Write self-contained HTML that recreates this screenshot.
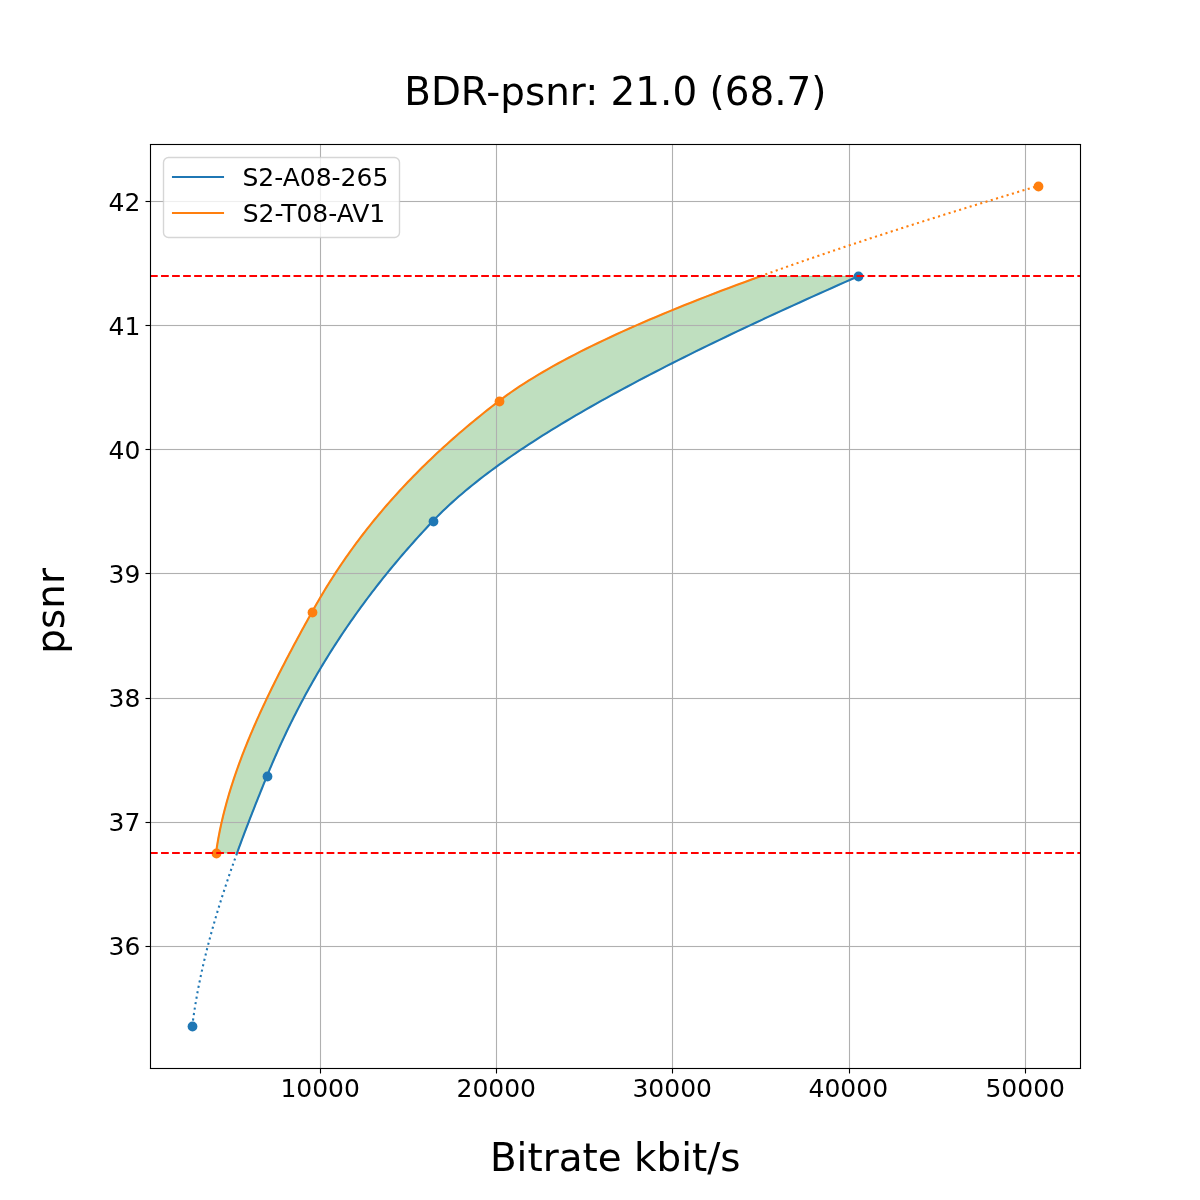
<!DOCTYPE html>
<html lang="en">
<head>
<meta charset="utf-8">
<title>BDR-psnr: 21.0 (68.7)</title>
<style>
html,body{margin:0;padding:0;background:#ffffff;}
body{width:1200px;height:1200px;overflow:hidden;}
svg{display:block;}
</style>
</head>
<body>
<svg width="1200" height="1200" viewBox="0 0 1200 1200">
<rect x="0" y="0" width="1200" height="1200" fill="#ffffff"/>
<defs><clipPath id="ax"><rect x="150" y="144" width="930" height="924"/></clipPath></defs>
<g clip-path="url(#ax)">
<path d="M237.06 853 L238.11 850.1 L239.17 847.2 L240.24 844.31 L241.31 841.41 L242.39 838.51 L243.48 835.61 L244.57 832.72 L245.67 829.82 L246.78 826.92 L247.89 824.02 L249.01 821.12 L250.13 818.23 L251.26 815.33 L252.39 812.43 L253.52 809.53 L254.67 806.64 L255.81 803.74 L256.97 800.84 L258.12 797.94 L259.28 795.05 L260.45 792.15 L261.61 789.25 L262.78 786.35 L263.96 783.45 L265.14 780.56 L266.32 777.66 L267.51 774.76 L268.71 771.86 L269.91 768.97 L271.14 766.07 L272.37 763.17 L273.62 760.27 L274.88 757.37 L276.15 754.48 L277.44 751.58 L278.74 748.68 L280.05 745.78 L281.38 742.89 L282.72 739.99 L284.07 737.09 L285.44 734.19 L286.82 731.29 L288.21 728.4 L289.62 725.5 L291.05 722.6 L292.49 719.7 L293.94 716.81 L295.41 713.91 L296.89 711.01 L298.39 708.11 L299.9 705.22 L301.43 702.32 L302.98 699.42 L304.53 696.52 L306.11 693.62 L307.7 690.73 L309.31 687.83 L310.93 684.93 L312.57 682.03 L314.23 679.14 L315.9 676.24 L317.59 673.34 L319.29 670.44 L321.01 667.54 L322.75 664.65 L324.51 661.75 L326.28 658.85 L328.07 655.95 L329.88 653.06 L331.71 650.16 L333.55 647.26 L335.41 644.36 L337.29 641.47 L339.19 638.57 L341.11 635.67 L343.04 632.77 L344.99 629.87 L346.96 626.98 L348.95 624.08 L350.96 621.18 L352.99 618.28 L355.04 615.39 L357.1 612.49 L359.19 609.59 L361.3 606.69 L363.42 603.79 L365.57 600.9 L367.73 598 L369.92 595.1 L372.12 592.2 L374.35 589.31 L376.59 586.41 L378.86 583.51 L381.14 580.61 L383.45 577.71 L385.78 574.82 L388.13 571.92 L390.5 569.02 L392.89 566.12 L395.31 563.23 L397.74 560.33 L400.2 557.43 L402.68 554.53 L405.18 551.64 L407.7 548.74 L410.25 545.84 L412.82 542.94 L415.41 540.04 L418.02 537.15 L420.66 534.25 L423.31 531.35 L426 528.45 L428.7 525.56 L431.43 522.66 L434.18 519.76 L437 516.86 L439.89 513.96 L442.85 511.07 L445.88 508.17 L448.98 505.27 L452.15 502.37 L455.38 499.48 L458.68 496.58 L462.05 493.68 L465.48 490.78 L468.98 487.88 L472.54 484.99 L476.17 482.09 L479.86 479.19 L483.61 476.29 L487.42 473.4 L491.3 470.5 L495.23 467.6 L499.23 464.7 L503.28 461.81 L507.4 458.91 L511.57 456.01 L515.8 453.11 L520.09 450.21 L524.43 447.32 L528.83 444.42 L533.28 441.52 L537.79 438.62 L542.35 435.73 L546.97 432.83 L551.64 429.93 L556.36 427.03 L561.13 424.13 L565.95 421.24 L570.82 418.34 L575.75 415.44 L580.72 412.54 L585.74 409.65 L590.8 406.75 L595.92 403.85 L601.08 400.95 L606.28 398.06 L611.53 395.16 L616.83 392.26 L622.17 389.36 L627.55 386.46 L632.98 383.57 L638.44 380.67 L643.95 377.77 L649.5 374.87 L655.09 371.98 L660.72 369.08 L666.39 366.18 L672.09 363.28 L677.84 360.38 L683.62 357.49 L689.44 354.59 L695.29 351.69 L701.18 348.79 L707.1 345.9 L713.06 343 L719.05 340.1 L725.07 337.2 L731.13 334.3 L737.21 331.41 L743.33 328.51 L749.48 325.61 L755.65 322.71 L761.86 319.82 L768.09 316.92 L774.36 314.02 L780.65 311.12 L786.96 308.23 L793.3 305.33 L799.67 302.43 L806.06 299.53 L812.48 296.63 L818.91 293.74 L825.38 290.84 L831.86 287.94 L838.36 285.04 L844.89 282.15 L851.43 279.25 L858 276.35 L760.14 276.35 L752.19 279.25 L744.32 282.15 L736.52 285.04 L728.8 287.94 L721.15 290.84 L713.58 293.74 L706.09 296.63 L698.68 299.53 L691.35 302.43 L684.1 305.33 L676.94 308.23 L669.86 311.12 L662.87 314.02 L655.96 316.92 L649.14 319.82 L642.42 322.71 L635.78 325.61 L629.24 328.51 L622.78 331.41 L616.43 334.3 L610.17 337.2 L604 340.1 L597.94 343 L591.97 345.9 L586.1 348.79 L580.34 351.69 L574.68 354.59 L569.12 357.49 L563.67 360.38 L558.32 363.28 L553.08 366.18 L547.95 369.08 L542.93 371.98 L538.03 374.87 L533.23 377.77 L528.55 380.67 L523.98 383.57 L519.53 386.46 L515.2 389.36 L510.98 392.26 L506.89 395.16 L502.91 398.06 L499.06 400.95 L495.29 403.85 L491.56 406.75 L487.88 409.65 L484.23 412.54 L480.62 415.44 L477.05 418.34 L473.52 421.24 L470.02 424.13 L466.57 427.03 L463.15 429.93 L459.77 432.83 L456.43 435.73 L453.13 438.62 L449.86 441.52 L446.63 444.42 L443.43 447.32 L440.28 450.21 L437.15 453.11 L434.06 456.01 L431.01 458.91 L427.99 461.81 L425.01 464.7 L422.06 467.6 L419.15 470.5 L416.26 473.4 L413.42 476.29 L410.6 479.19 L407.82 482.09 L405.07 484.99 L402.35 487.88 L399.66 490.78 L397.01 493.68 L394.39 496.58 L391.79 499.48 L389.23 502.37 L386.7 505.27 L384.2 508.17 L381.73 511.07 L379.29 513.96 L376.87 516.86 L374.49 519.76 L372.13 522.66 L369.81 525.56 L367.51 528.45 L365.24 531.35 L362.99 534.25 L360.78 537.15 L358.59 540.04 L356.43 542.94 L354.29 545.84 L352.18 548.74 L350.09 551.64 L348.03 554.53 L346 557.43 L343.99 560.33 L342 563.23 L340.04 566.12 L338.11 569.02 L336.19 571.92 L334.3 574.82 L332.44 577.71 L330.59 580.61 L328.77 583.51 L326.97 586.41 L325.2 589.31 L323.44 592.2 L321.71 595.1 L319.99 598 L318.3 600.9 L316.63 603.79 L314.97 606.69 L313.34 609.59 L311.73 612.49 L310.13 615.39 L308.53 618.28 L306.93 621.18 L305.34 624.08 L303.75 626.98 L302.17 629.87 L300.59 632.77 L299.02 635.67 L297.46 638.57 L295.9 641.47 L294.35 644.36 L292.8 647.26 L291.26 650.16 L289.73 653.06 L288.2 655.95 L286.69 658.85 L285.18 661.75 L283.68 664.65 L282.18 667.54 L280.7 670.44 L279.22 673.34 L277.76 676.24 L276.3 679.14 L274.85 682.03 L273.41 684.93 L271.99 687.83 L270.57 690.73 L269.16 693.62 L267.77 696.52 L266.38 699.42 L265.01 702.32 L263.65 705.22 L262.3 708.11 L260.97 711.01 L259.64 713.91 L258.33 716.81 L257.03 719.7 L255.75 722.6 L254.48 725.5 L253.22 728.4 L251.98 731.29 L250.75 734.19 L249.54 737.09 L248.34 739.99 L247.15 742.89 L245.98 745.78 L244.83 748.68 L243.69 751.58 L242.57 754.48 L241.47 757.37 L240.38 760.27 L239.31 763.17 L238.26 766.07 L237.22 768.97 L236.21 771.86 L235.21 774.76 L234.23 777.66 L233.26 780.56 L232.32 783.45 L231.39 786.35 L230.49 789.25 L229.6 792.15 L228.74 795.05 L227.89 797.94 L227.07 800.84 L226.26 803.74 L225.48 806.64 L224.72 809.53 L223.97 812.43 L223.26 815.33 L222.56 818.23 L221.88 821.12 L221.23 824.02 L220.6 826.92 L219.99 829.82 L219.41 832.72 L218.85 835.61 L218.31 838.51 L217.8 841.41 L217.31 844.31 L216.85 847.2 L216.41 850.1 L216 853Z" fill="#008000" fill-opacity="0.25" stroke="#008000" stroke-opacity="0.25" stroke-width="1.39" stroke-linejoin="miter"/>
<path d="M320.5 144V1068M496.5 144V1068M672.5 144V1068M849.5 144V1068M1025.5 144V1068" stroke="#b0b0b0" stroke-width="1.11" fill="none"/>
<g fill="#b0b0b0"><rect x="150" y="945.94" width="930" height="1.11"/><rect x="150" y="821.94" width="930" height="1.11"/><rect x="150" y="697.94" width="930" height="1.11"/><rect x="150" y="572.94" width="930" height="1.11"/><rect x="150" y="448.94" width="930" height="1.11"/><rect x="150" y="324.94" width="930" height="1.11"/><rect x="150" y="200.94" width="930" height="1.11"/></g>
<g fill="#1f77b4"><circle cx="192.5" cy="1026.5" r="4.89"/><circle cx="267.5" cy="776.5" r="4.89"/><circle cx="433.5" cy="521.5" r="4.89"/><circle cx="858.5" cy="276.5" r="4.89"/></g>
<path d="M237.06 853 L238.11 850.1 L239.17 847.2 L240.24 844.31 L241.31 841.41 L242.39 838.51 L243.48 835.61 L244.57 832.72 L245.67 829.82 L246.78 826.92 L247.89 824.02 L249.01 821.12 L250.13 818.23 L251.26 815.33 L252.39 812.43 L253.52 809.53 L254.67 806.64 L255.81 803.74 L256.97 800.84 L258.12 797.94 L259.28 795.05 L260.45 792.15 L261.61 789.25 L262.78 786.35 L263.96 783.45 L265.14 780.56 L266.32 777.66 L267.51 774.76 L268.71 771.86 L269.91 768.97 L271.14 766.07 L272.37 763.17 L273.62 760.27 L274.88 757.37 L276.15 754.48 L277.44 751.58 L278.74 748.68 L280.05 745.78 L281.38 742.89 L282.72 739.99 L284.07 737.09 L285.44 734.19 L286.82 731.29 L288.21 728.4 L289.62 725.5 L291.05 722.6 L292.49 719.7 L293.94 716.81 L295.41 713.91 L296.89 711.01 L298.39 708.11 L299.9 705.22 L301.43 702.32 L302.98 699.42 L304.53 696.52 L306.11 693.62 L307.7 690.73 L309.31 687.83 L310.93 684.93 L312.57 682.03 L314.23 679.14 L315.9 676.24 L317.59 673.34 L319.29 670.44 L321.01 667.54 L322.75 664.65 L324.51 661.75 L326.28 658.85 L328.07 655.95 L329.88 653.06 L331.71 650.16 L333.55 647.26 L335.41 644.36 L337.29 641.47 L339.19 638.57 L341.11 635.67 L343.04 632.77 L344.99 629.87 L346.96 626.98 L348.95 624.08 L350.96 621.18 L352.99 618.28 L355.04 615.39 L357.1 612.49 L359.19 609.59 L361.3 606.69 L363.42 603.79 L365.57 600.9 L367.73 598 L369.92 595.1 L372.12 592.2 L374.35 589.31 L376.59 586.41 L378.86 583.51 L381.14 580.61 L383.45 577.71 L385.78 574.82 L388.13 571.92 L390.5 569.02 L392.89 566.12 L395.31 563.23 L397.74 560.33 L400.2 557.43 L402.68 554.53 L405.18 551.64 L407.7 548.74 L410.25 545.84 L412.82 542.94 L415.41 540.04 L418.02 537.15 L420.66 534.25 L423.31 531.35 L426 528.45 L428.7 525.56 L431.43 522.66 L434.18 519.76 L437 516.86 L439.89 513.96 L442.85 511.07 L445.88 508.17 L448.98 505.27 L452.15 502.37 L455.38 499.48 L458.68 496.58 L462.05 493.68 L465.48 490.78 L468.98 487.88 L472.54 484.99 L476.17 482.09 L479.86 479.19 L483.61 476.29 L487.42 473.4 L491.3 470.5 L495.23 467.6 L499.23 464.7 L503.28 461.81 L507.4 458.91 L511.57 456.01 L515.8 453.11 L520.09 450.21 L524.43 447.32 L528.83 444.42 L533.28 441.52 L537.79 438.62 L542.35 435.73 L546.97 432.83 L551.64 429.93 L556.36 427.03 L561.13 424.13 L565.95 421.24 L570.82 418.34 L575.75 415.44 L580.72 412.54 L585.74 409.65 L590.8 406.75 L595.92 403.85 L601.08 400.95 L606.28 398.06 L611.53 395.16 L616.83 392.26 L622.17 389.36 L627.55 386.46 L632.98 383.57 L638.44 380.67 L643.95 377.77 L649.5 374.87 L655.09 371.98 L660.72 369.08 L666.39 366.18 L672.09 363.28 L677.84 360.38 L683.62 357.49 L689.44 354.59 L695.29 351.69 L701.18 348.79 L707.1 345.9 L713.06 343 L719.05 340.1 L725.07 337.2 L731.13 334.3 L737.21 331.41 L743.33 328.51 L749.48 325.61 L755.65 322.71 L761.86 319.82 L768.09 316.92 L774.36 314.02 L780.65 311.12 L786.96 308.23 L793.3 305.33 L799.67 302.43 L806.06 299.53 L812.48 296.63 L818.91 293.74 L825.38 290.84 L831.86 287.94 L838.36 285.04 L844.89 282.15 L851.43 279.25 L858 276.35" fill="none" stroke="#1f77b4" stroke-width="2.08" stroke-linejoin="round" stroke-linecap="square"/>
<path d="M192.27 1026 L192.72 1022.47 L193.2 1018.94 L193.7 1015.41 L194.22 1011.88 L194.76 1008.35 L195.33 1004.82 L195.92 1001.29 L196.53 997.76 L197.16 994.22 L197.82 990.69 L198.49 987.16 L199.19 983.63 L199.9 980.1 L200.64 976.57 L201.39 973.04 L202.17 969.51 L202.96 965.98 L203.78 962.45 L204.61 958.92 L205.46 955.39 L206.33 951.86 L207.22 948.33 L208.13 944.8 L209.05 941.27 L209.99 937.73 L210.95 934.2 L211.93 930.67 L212.92 927.14 L213.93 923.61 L214.95 920.08 L215.99 916.55 L217.04 913.02 L218.11 909.49 L219.2 905.96 L220.29 902.43 L221.41 898.9 L222.53 895.37 L223.68 891.84 L224.83 888.31 L226 884.78 L227.18 881.24 L228.37 877.71 L229.58 874.18 L230.8 870.65 L232.02 867.12 L233.27 863.59 L234.52 860.06 L235.78 856.53 L237.06 853" fill="none" stroke="#1f77b4" stroke-width="2.08" stroke-linejoin="round" stroke-dasharray="2.08 3.44"/>
<g fill="#ff7f0e"><circle cx="216.5" cy="853.5" r="4.89"/><circle cx="312.5" cy="612.5" r="4.89"/><circle cx="499.5" cy="401.5" r="4.89"/><circle cx="1038.5" cy="186.5" r="4.89"/></g>
<path d="M216 853 L216.41 850.1 L216.85 847.2 L217.31 844.31 L217.8 841.41 L218.31 838.51 L218.85 835.61 L219.41 832.72 L219.99 829.82 L220.6 826.92 L221.23 824.02 L221.88 821.12 L222.56 818.23 L223.26 815.33 L223.97 812.43 L224.72 809.53 L225.48 806.64 L226.26 803.74 L227.07 800.84 L227.89 797.94 L228.74 795.05 L229.6 792.15 L230.49 789.25 L231.39 786.35 L232.32 783.45 L233.26 780.56 L234.23 777.66 L235.21 774.76 L236.21 771.86 L237.22 768.97 L238.26 766.07 L239.31 763.17 L240.38 760.27 L241.47 757.37 L242.57 754.48 L243.69 751.58 L244.83 748.68 L245.98 745.78 L247.15 742.89 L248.34 739.99 L249.54 737.09 L250.75 734.19 L251.98 731.29 L253.22 728.4 L254.48 725.5 L255.75 722.6 L257.03 719.7 L258.33 716.81 L259.64 713.91 L260.97 711.01 L262.3 708.11 L263.65 705.22 L265.01 702.32 L266.38 699.42 L267.77 696.52 L269.16 693.62 L270.57 690.73 L271.99 687.83 L273.41 684.93 L274.85 682.03 L276.3 679.14 L277.76 676.24 L279.22 673.34 L280.7 670.44 L282.18 667.54 L283.68 664.65 L285.18 661.75 L286.69 658.85 L288.2 655.95 L289.73 653.06 L291.26 650.16 L292.8 647.26 L294.35 644.36 L295.9 641.47 L297.46 638.57 L299.02 635.67 L300.59 632.77 L302.17 629.87 L303.75 626.98 L305.34 624.08 L306.93 621.18 L308.53 618.28 L310.13 615.39 L311.73 612.49 L313.34 609.59 L314.97 606.69 L316.63 603.79 L318.3 600.9 L319.99 598 L321.71 595.1 L323.44 592.2 L325.2 589.31 L326.97 586.41 L328.77 583.51 L330.59 580.61 L332.44 577.71 L334.3 574.82 L336.19 571.92 L338.11 569.02 L340.04 566.12 L342 563.23 L343.99 560.33 L346 557.43 L348.03 554.53 L350.09 551.64 L352.18 548.74 L354.29 545.84 L356.43 542.94 L358.59 540.04 L360.78 537.15 L362.99 534.25 L365.24 531.35 L367.51 528.45 L369.81 525.56 L372.13 522.66 L374.49 519.76 L376.87 516.86 L379.29 513.96 L381.73 511.07 L384.2 508.17 L386.7 505.27 L389.23 502.37 L391.79 499.48 L394.39 496.58 L397.01 493.68 L399.66 490.78 L402.35 487.88 L405.07 484.99 L407.82 482.09 L410.6 479.19 L413.42 476.29 L416.26 473.4 L419.15 470.5 L422.06 467.6 L425.01 464.7 L427.99 461.81 L431.01 458.91 L434.06 456.01 L437.15 453.11 L440.28 450.21 L443.43 447.32 L446.63 444.42 L449.86 441.52 L453.13 438.62 L456.43 435.73 L459.77 432.83 L463.15 429.93 L466.57 427.03 L470.02 424.13 L473.52 421.24 L477.05 418.34 L480.62 415.44 L484.23 412.54 L487.88 409.65 L491.56 406.75 L495.29 403.85 L499.06 400.95 L502.91 398.06 L506.89 395.16 L510.98 392.26 L515.2 389.36 L519.53 386.46 L523.98 383.57 L528.55 380.67 L533.23 377.77 L538.03 374.87 L542.93 371.98 L547.95 369.08 L553.08 366.18 L558.32 363.28 L563.67 360.38 L569.12 357.49 L574.68 354.59 L580.34 351.69 L586.1 348.79 L591.97 345.9 L597.94 343 L604 340.1 L610.17 337.2 L616.43 334.3 L622.78 331.41 L629.24 328.51 L635.78 325.61 L642.42 322.71 L649.14 319.82 L655.96 316.92 L662.87 314.02 L669.86 311.12 L676.94 308.23 L684.1 305.33 L691.35 302.43 L698.68 299.53 L706.09 296.63 L713.58 293.74 L721.15 290.84 L728.8 287.94 L736.52 285.04 L744.32 282.15 L752.19 279.25 L760.14 276.35" fill="none" stroke="#ff7f0e" stroke-width="2.08" stroke-linejoin="round" stroke-linecap="square"/>
<path d="M760.14 276.35 L765.23 274.51 L770.35 272.66 L775.5 270.82 L780.68 268.97 L785.89 267.13 L791.12 265.29 L796.38 263.44 L801.67 261.6 L806.98 259.76 L812.32 257.91 L817.69 256.07 L823.08 254.22 L828.5 252.38 L833.94 250.54 L839.41 248.69 L844.9 246.85 L850.41 245 L855.95 243.16 L861.51 241.32 L867.1 239.47 L872.71 237.63 L878.34 235.78 L883.99 233.94 L889.67 232.1 L895.36 230.25 L901.08 228.41 L906.82 226.57 L912.58 224.72 L918.36 222.88 L924.15 221.03 L929.97 219.19 L935.81 217.35 L941.67 215.5 L947.55 213.66 L953.44 211.81 L959.35 209.97 L965.28 208.13 L971.23 206.28 L977.2 204.44 L983.18 202.59 L989.18 200.75 L995.19 198.91 L1001.22 197.06 L1007.27 195.22 L1013.33 193.38 L1019.41 191.53 L1025.5 189.69 L1031.61 187.84 L1037.73 186" fill="none" stroke="#ff7f0e" stroke-width="2.08" stroke-linejoin="round" stroke-dasharray="2.08 3.44"/>
<path d="M150 853H1080" fill="none" stroke="#ff0000" stroke-width="2.08" stroke-dasharray="7.71 3.33"/>
<path d="M150 276H1080" fill="none" stroke="#ff0000" stroke-width="2.08" stroke-dasharray="7.71 3.33"/>
</g>
<path d="M320.5 1068.5V1073.5M496.5 1068.5V1073.5M672.5 1068.5V1073.5M849.5 1068.5V1073.5M1025.5 1068.5V1073.5" stroke="#000000" stroke-width="1.11" fill="none"/>
<g fill="#000000"><rect x="145.5" y="945.94" width="5" height="1.11"/><rect x="145.5" y="821.94" width="5" height="1.11"/><rect x="145.5" y="697.94" width="5" height="1.11"/><rect x="145.5" y="572.94" width="5" height="1.11"/><rect x="145.5" y="448.94" width="5" height="1.11"/><rect x="145.5" y="324.94" width="5" height="1.11"/><rect x="145.5" y="200.94" width="5" height="1.11"/></g>
<path d="M150.5 1068.5V144.5M1080.5 1068.5V144.5" stroke="#000000" stroke-width="1.11" fill="none" stroke-linecap="square"/>
<g fill="#000000"><rect x="149.94" y="143.94" width="931.11" height="1.11"/><rect x="149.94" y="1067.94" width="931.11" height="1.11"/></g>
<g font-family="'DejaVu Sans', 'Liberation Sans', sans-serif" fill="#000000">
<g font-size="25px" text-anchor="middle">
<text x="320.15" y="1096.72">10000</text>
<text x="496.28" y="1096.72">20000</text>
<text x="672.21" y="1096.72">30000</text>
<text x="848.33" y="1096.72">40000</text>
<text x="1025.21" y="1096.72">50000</text>
</g>
<g font-size="25px" text-anchor="end">
<text x="140.3" y="955">36</text>
<text x="140.3" y="831">37</text>
<text x="140.3" y="707">38</text>
<text x="140.3" y="583">39</text>
<text x="140.3" y="459">40</text>
<text x="140.3" y="335">41</text>
<text x="140.3" y="211">42</text>
</g>
<text x="615.34" y="105.13" font-size="38.889px" text-anchor="middle">BDR-psnr: 21.0 (68.7)</text>
<text x="615.26" y="1170.63" font-size="38.889px" text-anchor="middle">Bitrate kbit/s</text>
<text transform="translate(64.4 610.86) rotate(-90)" font-size="38.889px" text-anchor="middle">psnr</text>
</g>
<rect x="163.5" y="157.5" width="236" height="80" rx="5" ry="5" fill="#ffffff" fill-opacity="0.8" stroke="#cccccc" stroke-opacity="0.8" stroke-width="1.39"/>
<path d="M173 177H223" stroke="#1f77b4" stroke-width="2.08" stroke-linecap="square" fill="none"/>
<path d="M173 213H223" stroke="#ff7f0e" stroke-width="2.08" stroke-linecap="square" fill="none"/>
<g font-family="'DejaVu Sans', 'Liberation Sans', sans-serif" fill="#000000" font-size="25px">
<text x="242.41" y="185.53">S2-A08-265</text>
<text x="242.64" y="222">S2-T08-AV1</text>
</g>
</svg>
</body>
</html>
